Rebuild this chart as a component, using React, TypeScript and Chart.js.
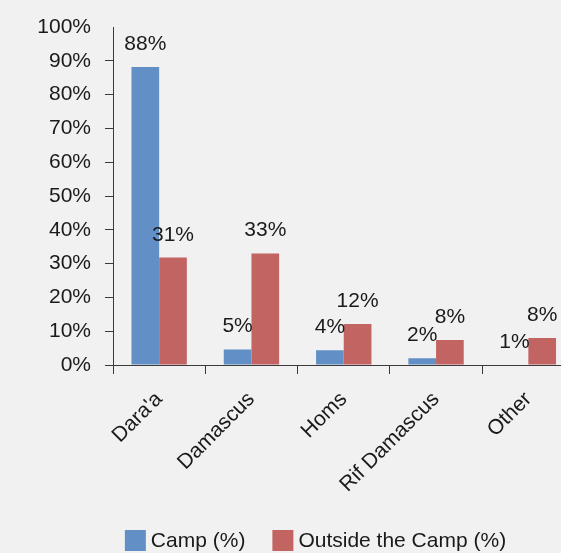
import React, { useEffect, useRef } from "react";
import { Chart, registerables } from "chart.js";

Chart.register(...registerables);

const categories = ["Dara'a", "Damascus", "Homs", "Rif Damascus", "Other"];
const campValues = [88.2, 4.6, 4.4, 2.0, 0];
const outsideValues = [31.8, 33.0, 12.1, 7.4, 8.0];
const campLabels = ["88%", "5%", "4%", "2%", "1%"];
const outsideLabels = ["31%", "33%", "12%", "8%", "8%"];
const seriesNames = ["Camp (%)", "Outside the Camp (%)"];

const FONT = '"Liberation Sans", Arial, Helvetica, sans-serif';
const BLUE = "#6290c6";
const RED = "#c26562";
const TEXT = "#1a1a1a";
const AXIS = "#3a3a3a";

const valueLabelPlugin = {
  id: "valueLabels",
  afterDatasetsDraw(chart: any) {
    const ctx = chart.ctx;
    const labelSets = [campLabels, outsideLabels];
    ctx.save();
    ctx.font = `21px ${FONT}`;
    ctx.fillStyle = TEXT;
    ctx.textAlign = "center";
    ctx.textBaseline = "alphabetic";
    chart.data.datasets.forEach((_: any, di: number) => {
      const meta = chart.getDatasetMeta(di);
      meta.data.forEach((el: any, i: number) => {
        ctx.fillText(labelSets[di][i], el.x, el.y - 17);
      });
    });
    ctx.restore();
  },
};

const legendPlugin = {
  id: "customLegend",
  afterDraw(chart: any) {
    const ctx = chart.ctx;
    ctx.save();
    ctx.font = `21px ${FONT}`;
    ctx.textBaseline = "middle";
    ctx.textAlign = "left";
    const box = 21;
    const gapText = 5;
    const gapItem = 27;
    const items = chart.data.datasets.map((d: any) => ({
      text: d.label,
      color: d.backgroundColor,
      w: box + gapText + ctx.measureText(d.label).width,
    }));
    const total = items.reduce((s: number, it: any) => s + it.w, 0) + gapItem * (items.length - 1);
    let x = 315.5 - total / 2;
    const y = 530;
    items.forEach((it: any) => {
      ctx.fillStyle = it.color;
      ctx.fillRect(x, y, box, box);
      ctx.fillStyle = TEXT;
      ctx.fillText(it.text, x + box + gapText, y + box / 2 + 1);
      x += it.w + gapItem;
    });
    ctx.restore();
  },
};

export default function App() {
  const ref = useRef<HTMLCanvasElement | null>(null);

  useEffect(() => {
    if (!ref.current) return;
    const chart = new Chart(ref.current, {
      type: "bar",
      data: {
        labels: categories,
        datasets: [
          {
            label: seriesNames[0],
            data: campValues,
            backgroundColor: BLUE,
            borderWidth: 0,
            categoryPercentage: 0.6,
            barPercentage: 1.0,
          },
          {
            label: seriesNames[1],
            data: outsideValues,
            backgroundColor: RED,
            borderWidth: 0,
            categoryPercentage: 0.6,
            barPercentage: 1.0,
          },
        ],
      },
      options: {
        animation: false,
        responsive: false,
        maintainAspectRatio: false,
        layout: { padding: { left: 0, top: 27, right: 25.5, bottom: 0 } },
        plugins: {
          legend: { display: false },
          tooltip: { enabled: false },
        },
        scales: {
          x: {
            offset: true,
            grid: {
              drawOnChartArea: false,
              tickLength: 9,
              color: AXIS,
              offset: true,
            },
            border: { color: AXIS, width: 1 },
            ticks: {
              color: TEXT,
              font: { size: 21, family: FONT },
              minRotation: 45,
              maxRotation: 45,
              autoSkip: false,
              padding: 13,
            },
            afterFit(scale: any) {
              scale.height = 553 - 365;
            },
          },
          y: {
            min: 0,
            max: 100,
            grid: {
              drawOnChartArea: false,
              tickLength: 8,
              color: (c: any) => (c.tick && c.tick.value === 100 ? "rgba(0,0,0,0)" : AXIS),
            },
            border: { color: AXIS, width: 1 },
            ticks: {
              stepSize: 10,
              color: TEXT,
              font: { size: 21, family: FONT },
              padding: 14,
              callback: (v: any) => `${v}%`,
            },
            afterFit(scale: any) {
              scale.width = 113;
            },
          },
        },
      },
      plugins: [valueLabelPlugin, legendPlugin],
    });
    return () => chart.destroy();
  }, []);

  return (
    <div
      style={{
        position: "fixed",
        left: 0,
        top: 0,
        width: 561,
        height: 553,
        overflow: "hidden",
        background: "#f1f1f1",
      }}
    >
      <canvas ref={ref} width={600} height={553} style={{ display: "block" }} />
    </div>
  );
}
